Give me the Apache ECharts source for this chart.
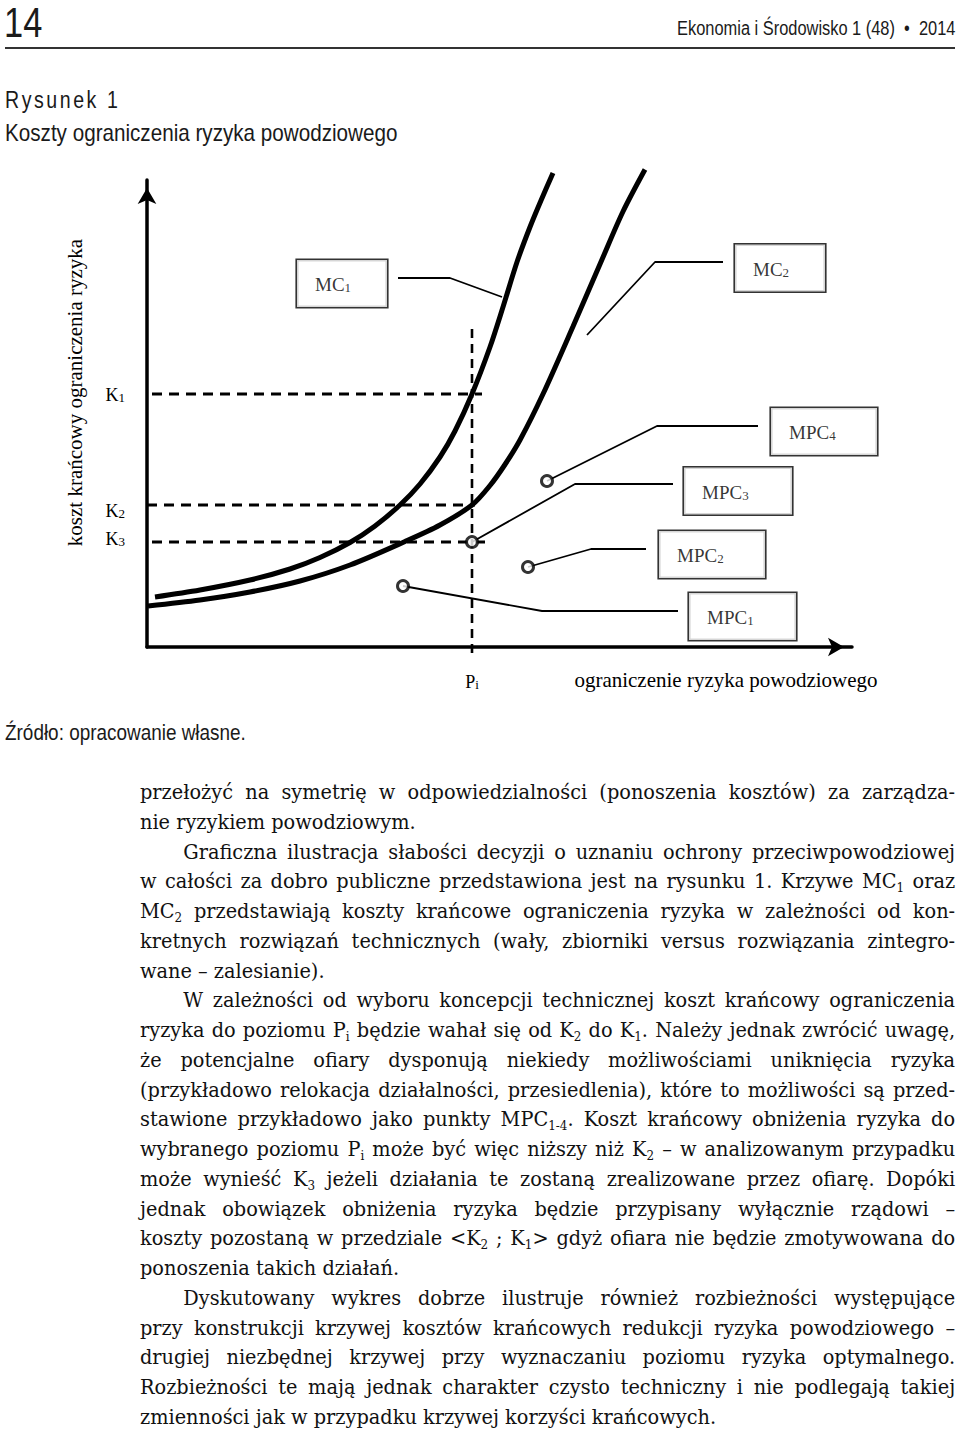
<!DOCTYPE html>
<html lang="pl">
<head>
<meta charset="utf-8">
<title>Koszty ograniczenia ryzyka powodziowego</title>
<script src="https://cdn.jsdelivr.net/npm/echarts@6/dist/echarts.min.js"></script>
<style>
  html, body { margin: 0; padding: 0; background: #fff; }
  body { width: 960px; height: 1435px; position: relative; overflow: hidden; color: #1a1a1a; }
  #chart { position: absolute; left: 0; top: 0; width: 960px; height: 720px; }
  .hd { position: absolute; font-family: "Liberation Sans", Arial, sans-serif; white-space: nowrap; color: #1a1a1a; transform-origin: left center; }
  #body { position: absolute; left: 140px; top: 778px; width: 886px; transform: scaleX(0.92); transform-origin: left top; font-family: "DejaVu Serif", "Liberation Serif", serif; font-size: 21px; color: #111; }
  .l { height: 29.76px; line-height: 29.76px; text-align: justify; text-align-last: justify; }
  .l.last { text-align-last: left; }
  .l.ind { text-indent: 47px; }
  sub { font-size: 0.62em; vertical-align: -0.3em; line-height: 0; }
</style>
</head>
<body>
<div class="hd" style="left:4px; top:0px; font-size:43px; line-height:44px; transform:scaleX(0.8);">14</div>
<div class="hd" style="right:5px; top:15px; font-size:20px; line-height:26px; transform-origin:right center; transform:scaleX(0.82);">Ekonomia i Środowisko 1 (48) &nbsp;•&nbsp; 2014</div>
<div style="position:absolute; left:5px; top:47px; width:950px; height:2px; background:#333;"></div>
<div class="hd" style="left:5px; top:86px; font-size:23px; line-height:28px; letter-spacing:3px; transform:scaleX(0.85);">Rysunek 1</div>
<div class="hd" style="left:5px; top:119px; font-size:24px; line-height:28px; transform:scaleX(0.86);">Koszty ograniczenia ryzyka powodziowego</div>
<div id="chart"></div>
<div class="hd" style="left:5px; top:720px; font-size:22px; line-height:26px; transform:scaleX(0.86);">Źródło: opracowanie własne.</div>

<div id="body">
  <div class="l">przełożyć na symetrię w odpowiedzialności (ponoszenia kosztów) za zarządza-</div>
  <div class="l last">nie ryzykiem powodziowym.</div>
  <div class="l ind">Graficzna ilustracja słabości decyzji o uznaniu ochrony przeciwpowodziowej</div>
  <div class="l">w całości za dobro publiczne przedstawiona jest na rysunku 1. Krzywe MC<sub>1</sub> oraz</div>
  <div class="l">MC<sub>2</sub> przedstawiają koszty krańcowe ograniczenia ryzyka w zależności od kon-</div>
  <div class="l">kretnych rozwiązań technicznych (wały, zbiorniki versus rozwiązania zintegro-</div>
  <div class="l last">wane – zalesianie).</div>
  <div class="l ind">W zależności od wyboru koncepcji technicznej koszt krańcowy ograniczenia</div>
  <div class="l">ryzyka do poziomu P<sub>i</sub> będzie wahał się od K<sub>2</sub> do K<sub>1</sub>. Należy jednak zwrócić uwagę,</div>
  <div class="l">że potencjalne ofiary dysponują niekiedy możliwościami uniknięcia ryzyka</div>
  <div class="l">(przykładowo relokacja działalności, przesiedlenia), które to możliwości są przed-</div>
  <div class="l">stawione przykładowo jako punkty MPC<sub>1-4</sub>. Koszt krańcowy obniżenia ryzyka do</div>
  <div class="l">wybranego poziomu P<sub>i</sub> może być więc niższy niż K<sub>2</sub> – w analizowanym przypadku</div>
  <div class="l">może wynieść K<sub>3</sub> jeżeli działania te zostaną zrealizowane przez ofiarę. Dopóki</div>
  <div class="l">jednak obowiązek obniżenia ryzyka będzie przypisany wyłącznie rządowi –</div>
  <div class="l">koszty pozostaną w przedziale &lt;K<sub>2</sub> ; K<sub>1</sub>&gt; gdyż ofiara nie będzie zmotywowana do</div>
  <div class="l last">ponoszenia takich działań.</div>
  <div class="l ind">Dyskutowany wykres dobrze ilustruje również rozbieżności występujące</div>
  <div class="l">przy konstrukcji krzywej kosztów krańcowych redukcji ryzyka powodziowego –</div>
  <div class="l">drugiej niezbędnej krzywej przy wyznaczaniu poziomu ryzyka optymalnego.</div>
  <div class="l">Rozbieżności te mają jednak charakter czysto techniczny i nie podlegają takiej</div>
  <div class="l last">zmienności jak w przypadku krzywej korzyści krańcowych.</div>
</div>

<script>
// ---------- data (conceptual units) ----------
const xAxisMax = 141;
const yAxisMax = 93.4;
const yAxisTitle = 'koszt krańcowy ograniczenia ryzyka';
const xAxisTitle = 'ograniczenie ryzyka powodziowego';

const mc1Curve = [[1.6,10],[10.6,11.4],[20.6,13.4],[28.6,15.6],[34.6,17.9],[40.6,20.9],[45.6,24.2],[50.6,28.4],[54.6,32.6],[58.6,38],[61.6,43.2],[65,50.6],[68.6,60],[71.2,68],[74,77],[76.6,84],[78.8,89.3],[81.2,94.8]];
const mc2Curve = [[0.2,8.2],[10.6,9.4],[20.6,11],[30.6,13.2],[40.6,16.4],[51.6,21.1],[58.6,24.4],[65,28.4],[68.6,32.3],[71.6,36.5],[74.6,41.4],[79.2,50.6],[85.2,64.1],[91,77.5],[95.2,87.1],[99.6,95.5]];

const levelNames = ['K1','K2','K3'];
const levelValues = [50.6, 28.4, 21.0];
const levelLineFrom = [-2.4, -3.4, -2.4];
const levelLineTo = [67, 65.6, 68.2];

const piName = 'Pi';
const piValue = 65;
const piLineRange = [-1.2, 64];

const mpcNames = ['MPC1','MPC2','MPC3','MPC4'];
const mpcPoints = [[51.2,12.2],[76.2,16],[65,21],[80,33.2]];

const calloutNames = ['MC1','MC2','MPC4','MPC3','MPC2','MPC1'];
const calloutAnchors = [[30,72.7],[117.6,75.8],[124.8,43.1],[107.4,31.2],[102.4,18.5],[108.4,6.1]];
const leaderPaths = [
  [[50.2,73.8],[60.6,73.8],[71,70]],
  [[115.2,77],[101.6,77],[88,62.4]],
  [[122.2,44.2],[102,44.2],[80,33.2]],
  [[105.2,32.6],[85.6,32.6],[65,21]],
  [[99.8,19.6],[88.8,19.6],[76.2,16]],
  [[106.2,7.2],[79,7.2],[51.2,12.2]]
];

// ---------- styles ----------
const SERIF = '"Liberation Serif", "Times New Roman", serif';
const boxWidths = [90, 90, 106, 108, 106, 107];
const levelLabelNudge = [0, -1.0, 0.8];

function subRich(size, subSize) {
  return {
    m: { fontSize: size, fontFamily: SERIF, color: '#000', lineHeight: 20, verticalAlign: 'bottom' },
    s: { fontSize: subSize, fontFamily: SERIF, color: '#000', lineHeight: 14, verticalAlign: 'bottom' }
  };
}
function splitSub(name) {
  const m = name.match(/^([A-Za-z]+?)([0-9i\-]+)$/);
  return m ? '{m|' + m[1] + '}{s|' + m[2] + '}' : '{m|' + name + '}';
}

const axisLineStyle = { color: '#000', width: 3.5 };
const labelValues = levelValues.map((v, i) => v + levelLabelNudge[i]);

const series = [];
series.push({ type: 'line', name: 'MC1', data: mc1Curve, smooth: 0.3, symbol: 'none', clip: false, z: 3,
  lineStyle: { color: '#000', width: 5 } });
series.push({ type: 'line', name: 'MC2', data: mc2Curve, smooth: 0.3, symbol: 'none', clip: false, z: 3,
  lineStyle: { color: '#000', width: 5 } });
levelValues.forEach((v, i) => {
  series.push({ type: 'line', name: levelNames[i], data: [[levelLineFrom[i], v], [levelLineTo[i], v]],
    symbol: 'none', clip: false, z: 2, lineStyle: { color: '#000', width: 3, type: [10, 7] } });
});
series.push({ type: 'line', name: piName, data: [[piValue, piLineRange[0]], [piValue, piLineRange[1]]],
  symbol: 'none', clip: false, z: 2, lineStyle: { color: '#000', width: 2.6, type: [9, 6] } });
leaderPaths.forEach((p, i) => {
  series.push({ type: 'line', name: 'leader ' + calloutNames[i], data: p, symbol: 'none', clip: false, z: 2,
    lineStyle: { color: '#000', width: 1.8 } });
});
series.push({ type: 'scatter', name: 'MPC', data: mpcPoints.map((p, i) => ({ name: mpcNames[i], value: p })),
  symbol: 'circle', symbolSize: 11, clip: false, z: 5,
  itemStyle: { color: '#fff', borderColor: '#000', borderWidth: 3 } });
series.push({ type: 'scatter', name: 'callouts', symbolSize: 0, clip: false, z: 6, silent: true,
  data: calloutAnchors.map((p, i) => ({
    name: calloutNames[i], value: p,
    label: {
      show: true, position: 'inside', align: 'left', verticalAlign: 'middle',
      formatter: splitSub(calloutNames[i]),
      width: boxWidths[i] - 18, padding: [14, 0, 13, 18],
      backgroundColor: '#fff', borderColor: '#000', borderWidth: 1.6,
      rich: subRich(19, 13)
    }
  }))
});

const chart = echarts.init(document.getElementById('chart'), null, { renderer: 'svg' });
chart.setOption({
  animation: false,
  backgroundColor: 'transparent',
  grid: { left: 147, right: 108, top: 180, bottom: 73, containLabel: false },
  xAxis: {
    type: 'value', min: 0, max: xAxisMax,
    name: xAxisTitle, nameLocation: 'middle', nameGap: 22, nameMoveOverlap: false,
    nameTextStyle: { fontFamily: SERIF, fontSize: 21, color: '#000', padding: [0, 0, 0, 453] },
    axisLine: { show: true, onZero: false, lineStyle: axisLineStyle, symbol: ['none', 'arrow'], symbolSize: [14, 16], symbolOffset: [0, -8] },
    axisTick: { show: false },
    splitLine: { show: false },
    axisLabel: { show: true, customValues: [piValue], margin: 24, formatter: () => splitSub(piName), rich: subRich(18, 13) }
  },
  yAxis: {
    type: 'value', min: 0, max: yAxisMax,
    name: yAxisTitle, nameLocation: 'middle', nameGap: 62, nameRotate: 90, nameMoveOverlap: false,
    nameTextStyle: { fontFamily: SERIF, fontSize: 21, color: '#000', padding: [0, 0, 0, 42] },
    axisLine: { show: true, onZero: false, lineStyle: axisLineStyle, symbol: ['none', 'arrow'], symbolSize: [14, 16], symbolOffset: [0, -8] },
    axisTick: { show: false },
    splitLine: { show: false },
    axisLabel: {
      show: true, customValues: labelValues, margin: 22,
      formatter: (val) => {
        let best = 0;
        labelValues.forEach((lv, i) => { if (Math.abs(lv - val) < Math.abs(labelValues[best] - val)) best = i; });
        return splitSub(levelNames[best]);
      },
      rich: subRich(18, 13)
    }
  },
  series: series
});
</script>
</body>
</html>
